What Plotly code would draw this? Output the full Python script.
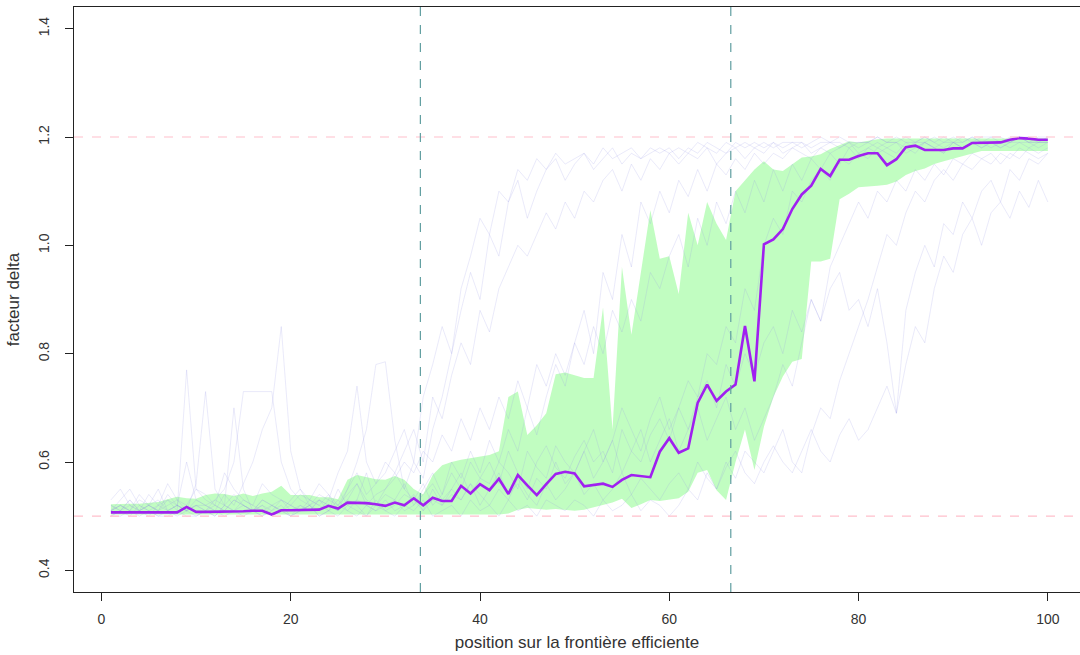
import plotly.graph_objects as go

positions = list(range(1, 101))

median_delta = [
    .507, .507, .507, .507, .507, .507, .507, .507, .517, .508,
    .508, .508, .508, .508, .509, .510, .510, .503, .511, .511,
    .511, .511, .512, .519, .514, .525, .525, .524, .522, .519,
    .525, .520, .533, .520, .534, .528, .528, .556, .542, .559,
    .548, .569, .541, .576, .557, .539, .559, .578, .582, .579,
    .555, .557, .560, .554, .567, .576, .574, .572, .619, .644,
    .617, .625, .709, .743, .713, .730, .743, .851, .749, 1.002,
    1.011, 1.030, 1.067, 1.094, 1.110, 1.141, 1.128, 1.158, 1.158, 1.165,
    1.170, 1.170, 1.148, 1.159, 1.181, 1.184, 1.176, 1.176, 1.176, 1.179,
    1.179, 1.189, 1.189, 1.189, 1.190, 1.195, 1.198, 1.197, 1.195, 1.195,
]

band_upper = [
    .522, .523, .523, .523, .524, .526, .531, .536, .533, .532,
    .539, .542, .541, .537, .542, .537, .542, .545, .556, .539,
    .539, .539, .535, .535, .531, .567, .576, .572, .568, .567,
    .574, .567, .550, .540, .576, .594, .600, .604, .607, .611,
    .613, .620, .720, .730, .650, .668, .690, .762, .765, .760,
    .755, .755, .885, .660, .960, .835, .950, 1.065, .975, .980,
    .910, 1.060, 1.000, 1.080, 1.040, 1.010, 1.100, 1.120, 1.140, 1.155,
    1.140, 1.137, 1.150, 1.162, 1.164, 1.168, 1.178, 1.185, 1.192, 1.190,
    1.193, 1.196, 1.197, 1.197, 1.197, 1.197, 1.197, 1.197, 1.197, 1.197,
    1.197, 1.197, 1.197, 1.197, 1.197, 1.197, 1.197, 1.197, 1.197, 1.197,
]

band_lower = [
    .503, .503, .503, .503, .503, .503, .503, .503, .503, .503,
    .503, .503, .503, .503, .503, .503, .503, .503, .503, .503,
    .503, .503, .503, .503, .503, .503, .503, .503, .503, .503,
    .503, .503, .503, .503, .503, .503, .503, .503, .503, .503,
    .503, .503, .505, .512, .515, .514, .512, .513, .512, .510,
    .512, .516, .520, .525, .532, .515, .522, .530, .528, .530,
    .533, .545, .580, .585, .548, .530, .600, .660, .585, .665,
    .720, .758, .785, .790, .970, .970, .975, 1.085, 1.095, 1.107,
    1.108, 1.110, 1.112, 1.118, 1.130, 1.137, 1.142, 1.150, 1.155, 1.160,
    1.165, 1.170, 1.174, 1.174, 1.174, 1.174, 1.174, 1.174, 1.174, 1.174,
]

run_1 = [
    .52, .51, .53, .51, .52, .55, .51, .52, .60, .53,
    .52, .51, .54, .52, .56, .60, .66, .70, .85, .62,
    .55, .53, .52, .54, .51, .53, .56, .52, .54, .55,
    .58, .55, .60, .57, .66, .72, .80, .88, .95, .90,
    1.02, .98, 1.08, 1.12, 1.05, 1.10, 1.14, 1.16, 1.12, 1.15,
    1.17, 1.14, 1.16, 1.18, 1.15, 1.17, 1.16, 1.18, 1.17, 1.18,
    1.16, 1.18, 1.17, 1.19, 1.18, 1.17, 1.19, 1.18, 1.19, 1.18,
    1.19, 1.18, 1.19, 1.19, 1.18, 1.19, 1.19, 1.20, 1.19, 1.19,
    1.19, 1.20, 1.19, 1.20, 1.19, 1.19, 1.20, 1.19, 1.20, 1.19,
    1.20, 1.19, 1.20, 1.20, 1.19, 1.20, 1.20, 1.19, 1.20, 1.20,
]
run_2 = [
    .51, .53, .55, .52, .51, .52, .53, .51, .77, .55,
    .53, .52, .51, .53, .52, .51, .53, .52, .51, .52,
    .51, .53, .52, .51, .55, .52, .53, .58, .52, .54,
    .53, .56, .52, .55, .58, .54, .60, .57, .62, .58,
    .64, .60, .66, .62, .70, .65, .72, .78, .74, .82,
    .88, .80, .95, .90, 1.02, .96, 1.08, 1.04, 1.10, 1.06,
    1.12, 1.09, 1.14, 1.10, 1.15, 1.13, 1.16, 1.14, 1.17, 1.15,
    1.17, 1.16, 1.18, 1.17, 1.16, 1.18, 1.17, 1.18, 1.19, 1.17,
    1.18, 1.19, 1.18, 1.17, 1.19, 1.18, 1.19, 1.18, 1.19, 1.19,
    1.18, 1.19, 1.19, 1.18, 1.19, 1.19, 1.20, 1.19, 1.19, 1.19,
]
run_3 = [
    .51, .52, .51, .54, .52, .51, .53, .52, .51, .56,
    .73, .55, .52, .51, .53, .52, .51, .52, .53, .51,
    .52, .51, .53, .52, .51, .55, .60, .66, .78, .785,
    .64, .55, .53, .56, .52, .54, .58, .55, .60, .57,
    .56, .60, .58, .55, .62, .59, .57, .63, .60, .58,
    .62, .66, .60, .64, .70, .66, .62, .68, .72, .66,
    .70, .75, .72, .80, .78, .85, .82, .92, .88, 1.00,
    1.05, 1.02, 1.10, 1.08, 1.12, 1.14, 1.12, 1.16, 1.15, 1.17,
    1.16, 1.18, 1.17, 1.16, 1.18, 1.17, 1.19, 1.18, 1.17, 1.19,
    1.18, 1.19, 1.18, 1.19, 1.18, 1.19, 1.19, 1.18, 1.19, 1.19,
]
run_4 = [
    .50, .51, .50, .52, .51, .50, .51, .52, .51, .50,
    .51, .50, .52, .70, .55, .51, .50, .51, .52, .50,
    .51, .52, .50, .51, .53, .51, .50, .52, .51, .53,
    .51, .52, .54, .51, .53, .52, .55, .53, .56, .54,
    .52, .55, .53, .57, .54, .52, .56, .53, .55, .58,
    .54, .56, .53, .55, .58, .54, .57, .55, .53, .56,
    .58, .55, .60, .57, .55, .59, .62, .58, .56, .60,
    .63, .60, .58, .62, .66, .62, .60, .65, .68, .64,
    .66, .70, .74, .69, .78, .85, .82, .92, .98, .95,
    1.02, 1.05, 1.00, 1.06, 1.08, 1.05, 1.10, 1.07, 1.12, 1.08,
]
run_5 = [
    .52, .51, .53, .51, .52, .51, .54, .52, .51, .53,
    .52, .53, .55, .60, .73, .73, .73, .73, .60, .55,
    .53, .52, .51, .53, .52, .54, .56, .53, .52, .55,
    .57, .60, .58, .62, .60, .65, .62, .68, .64, .70,
    .66, .72, .68, .75, .70, .78, .74, .80, .76, .82,
    .78, .85, .80, .88, .84, .90, .86, .95, .92, .98,
    1.02, .96, 1.05, 1.00, 1.08, 1.04, 1.10, 1.06, 1.12, 1.08,
    1.14, 1.10, 1.15, 1.12, 1.16, 1.14, 1.17, 1.15, 1.18, 1.16,
    1.18, 1.17, 1.18, 1.19, 1.17, 1.18, 1.19, 1.18, 1.17, 1.19,
    1.18, 1.19, 1.18, 1.19, 1.19, 1.18, 1.19, 1.19, 1.18, 1.19,
]
run_6 = [
    .51, .52, .51, .53, .52, .51, .52, .53, .51, .52,
    .51, .53, .52, .54, .52, .51, .53, .52, .51, .53,
    .55, .52, .54, .53, .58, .62, .74, .60, .56, .58,
    .62, .66, .60, .72, .78, .85, .80, .92, .98, 1.05,
    1.02, 1.10, 1.08, 1.14, 1.12, 1.16, 1.14, 1.17, 1.15, 1.16,
    1.17, 1.15, 1.18, 1.16, 1.17, 1.18, 1.16, 1.17, 1.18, 1.17,
    1.18, 1.17, 1.19, 1.18, 1.17, 1.19, 1.18, 1.19, 1.18, 1.19,
    1.18, 1.19, 1.19, 1.18, 1.19, 1.20, 1.19, 1.19, 1.18, 1.19,
    1.19, 1.20, 1.19, 1.19, 1.20, 1.19, 1.19, 1.20, 1.19, 1.20,
    1.19, 1.20, 1.19, 1.20, 1.20, 1.19, 1.20, 1.20, 1.19, 1.20,
]
run_7 = [
    .50, .50, .51, .50, .51, .50, .50, .51, .50, .50,
    .51, .50, .52, .51, .50, .51, .52, .50, .51, .50,
    .51, .52, .50, .51, .50, .52, .51, .50, .53, .51,
    .50, .52, .51, .53, .50, .51, .52, .50, .53, .51,
    .52, .50, .53, .51, .52, .50, .53, .52, .51, .53,
    .52, .50, .53, .51, .52, .54, .51, .53, .52, .50,
    .52, .55, .53, .58, .55, .60, .57, .62, .60, .58,
    .62, .66, .60, .58, .65, .70, .68, .75, .80, .85,
    .90, .96, 1.02, 1.00, 1.06, 1.10, 1.08, 1.12, 1.14, 1.12,
    1.15, 1.14, 1.16, 1.17, 1.15, 1.17, 1.16, 1.18, 1.17, 1.18,
]
run_8 = [
    .51, .52, .51, .51, .52, .53, .51, .52, .51, .52,
    .51, .52, .51, .53, .52, .51, .52, .51, .53, .52,
    .51, .52, .53, .51, .52, .51, .53, .52, .51, .52,
    .53, .51, .52, .54, .56, .53, .55, .58, .54, .57,
    .60, .56, .62, .58, .55, .60, .63, .59, .57, .61,
    .64, .60, .62, .58, .66, .62, .60, .65, .68, .64,
    .70, .66, .72, .75, .70, .78, .74, .80, .76, .82,
    .85, .80, .88, .84, .90, .86, .92, .95, .88, .90,
    .85, .92, .82, .69, .88, .95, 1.00, .96, 1.04, 1.02,
    1.08, 1.05, 1.10, 1.12, 1.08, 1.14, 1.12, 1.16, 1.15, 1.17,
]
run_9 = [
    .53, .55, .52, .51, .54, .52, .56, .53, .52, .55,
    .54, .52, .58, .55, .53, .52, .56, .54, .53, .52,
    .54, .53, .56, .54, .52, .55, .58, .54, .56, .60,
    .58, .62, .66, .60, .72, .68, .76, .82, .78, .88,
    .84, .92, .96, 1.00, .98, 1.02, 1.06, 1.03, 1.08, 1.05,
    1.10, 1.08, 1.12, 1.14, 1.10, 1.15, 1.12, 1.16, 1.14, 1.17,
    1.15, 1.17, 1.16, 1.18, 1.15, 1.17, 1.18, 1.16, 1.18, 1.17,
    1.19, 1.17, 1.18, 1.19, 1.17, 1.18, 1.19, 1.18, 1.19, 1.18,
    1.19, 1.18, 1.19, 1.19, 1.18, 1.19, 1.20, 1.19, 1.18, 1.19,
    1.19, 1.20, 1.19, 1.19, 1.18, 1.19, 1.20, 1.19, 1.19, 1.19,
]
run_10 = [
    .50, .51, .52, .51, .50, .52, .51, .50, .51, .52,
    .52, .51, .50, .51, .52, .51, .50, .52, .51, .50,
    .52, .51, .53, .52, .51, .53, .52, .50, .52, .51,
    .52, .54, .53, .51, .55, .52, .54, .53, .56, .52,
    .55, .58, .54, .56, .53, .57, .55, .60, .56, .58,
    .62, .57, .60, .64, .58, .62, .66, .60, .64, .68,
    .62, .66, .70, .64, .68, .72, .66, .70, .64, .68,
    .72, .78, .74, .82, .90, .86, .96, 1.00, 1.04, 1.08,
    1.05, 1.10, 1.08, 1.12, 1.10, 1.14, 1.12, 1.15, 1.13, 1.16,
    1.15, 1.17, 1.16, 1.15, 1.17, 1.16, 1.18, 1.17, 1.16, 1.17,
]
runs = [run_1, run_2, run_3, run_4, run_5, run_6, run_7, run_8, run_9, run_10]

ref_levels = [0.5, 1.2]
frontier_splits = [33.7, 66.5]

x_ticks = [0, 20, 40, 60, 80, 100]
y_ticks = [0.4, 0.6, 0.8, 1.0, 1.2, 1.4]
y_tick_text = ["0.4", "0.6", "0.8", "1.0", "1.2", "1.4"]

fig = go.Figure()

fig.add_trace(go.Scatter(x=positions, y=band_lower, mode="lines",
                         line=dict(width=0, color="rgba(0,0,0,0)"),
                         showlegend=False, hoverinfo="skip"))
fig.add_trace(go.Scatter(x=positions, y=band_upper, mode="lines",
                         line=dict(width=0, color="rgba(0,0,0,0)"),
                         fill="tonexty", fillcolor="rgba(152,251,152,0.6)",
                         showlegend=False, hoverinfo="skip"))

for r in runs:
    fig.add_trace(go.Scatter(x=positions, y=r, mode="lines",
                             line=dict(width=1, color="rgba(150,150,230,0.2)"),
                             showlegend=False, hoverinfo="skip"))

fig.add_trace(go.Scatter(x=positions, y=median_delta, mode="lines",
                         line=dict(width=2.6, color="#a020f0"),
                         showlegend=False))

for lv in ref_levels:
    fig.add_hline(y=lv, line=dict(color="#ffc0cb", width=1.2, dash="dash"))
for sp in frontier_splits:
    fig.add_vline(x=sp, line=dict(color="#5f9ea0", width=1.2, dash="dash"))

font_family = "Liberation Sans, Arial, sans-serif"
fig.update_layout(
    width=1080, height=655,
    margin=dict(l=74, r=0, t=7, b=63),
    paper_bgcolor="white", plot_bgcolor="white",
    font=dict(family=font_family, color="#333333"),
    xaxis=dict(range=[-2.9, 103.4], tickvals=x_ticks, ticks="outside",
               ticklen=8, tickcolor="#222", showgrid=False, zeroline=False,
               showline=True, linecolor="#222", linewidth=1, mirror=True,
               ticklabelstandoff=6,
               tickfont=dict(size=14, color="#333"),
               title=dict(text="position sur la frontière efficiente",
                          font=dict(size=17, color="#333"), standoff=10)),
    yaxis=dict(range=[0.36, 1.44], tickvals=y_ticks, ticktext=y_tick_text,
               ticks="outside", ticklen=8, tickcolor="#222", tickangle=-90,
               showgrid=False, zeroline=False, showline=True,
               linecolor="#222", linewidth=1, ticklabelstandoff=10,
               tickfont=dict(size=14, color="#333"),
               title=dict(text="facteur delta",
                          font=dict(size=17, color="#333"), standoff=12)),
)

fig.write_html("out.html")
